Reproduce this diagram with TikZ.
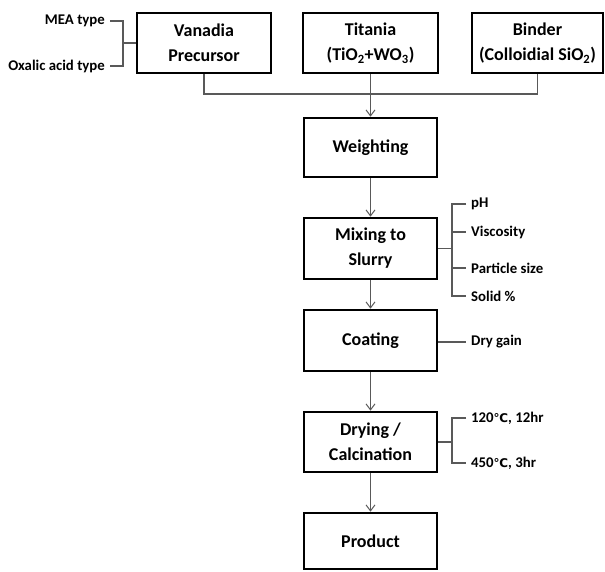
\documentclass[tikz,border=0pt]{standalone}
\usepackage{fontspec}
\setmainfont{Carlito}
\newfontfamily\symfont{DejaVu Sans}
\usetikzlibrary{arrows.meta}
\newcommand{\degc}{{\symfont\fontsize{12}{12}\selectfont ℃}}
\tikzset{
  stepbox/.style={draw=black, line width=2.6pt, minimum width=133pt, minimum height=60pt,
    inner sep=2pt, align=center, font=\fontsize{18}{25}\selectfont\bfseries},
  conn/.style={draw=black!65, line width=1.3pt},
  arr/.style={conn, -{Straight Barb[length=6pt,width=9pt,line width=1pt]}},
  lbl/.style={font=\fontsize{14.8}{16}\selectfont\bfseries, inner xsep=5pt, inner ysep=1pt},
}
\begin{document}
\begin{tikzpicture}[x=1pt,y=-1pt]
\useasboundingbox (0,0) rectangle (605,571);
% boxes
\node[stepbox, minimum width=134pt] (van) at (204,43) {Vanadia\\Precursor};
\node[stepbox, minimum width=135pt] (tit) at (370.5,43) {Titania\\(TiO\textsubscript{2}+WO\textsubscript{3})};
\node[stepbox, minimum width=131pt] (bin) at (537.5,43) {Binder\\(Colloidial SiO\textsubscript{2})};
\node[stepbox, minimum height=59pt] (wei) at (370.5,147.5) {Weighting};
\node[stepbox, minimum height=61pt] (mix) at (370.5,248.5) {Mixing to\\Slurry};
\node[stepbox, minimum height=61pt] (coa) at (370.5,340.5) {Coating};
\node[stepbox] (dry) at (370.5,442) {Drying /\\Calcination};
\node[stepbox, minimum height=56pt] (pro) at (370.5,541) {Product};
% left labels
\node[lbl, anchor=east] (mea) at (110,21) {MEA type};
\node[lbl, anchor=east] (oxa) at (110,66) {Oxalic acid type};
\coordinate (lb) at (123,43);
\draw[conn] (mea.east) -| (lb) |- (oxa.east);
\draw[conn] (lb) -- (van.west);
% top collector
\coordinate (jl) at (204,94);
\draw[conn] (van.south) -- (jl) -| (bin.south);
\draw[arr] (tit.south) -- (wei.north);
\draw[arr] (wei.south) -- (mix.north);
\draw[arr] (mix.south) -- (coa.north);
\draw[arr] (coa.south) -- (dry.north);
\draw[arr] (dry.south) -- (pro.north);
% mixing labels
\node[lbl, anchor=west] (ph) at (466,204) {pH};
\node[lbl, anchor=west] (vis) at (466,232) {Viscosity};
\node[lbl, anchor=west] (par) at (466,268) {Particle size};
\node[lbl, anchor=west] (sol) at (466,296) {Solid \%};
\coordinate (mb) at (452,248.5);
\draw[conn] (mix.east) -- (mb);
\draw[conn] (ph.west) -| (mb) |- (sol.west);
\draw[conn] (mb |- vis.west) -- (vis.west);
\draw[conn] (mb |- par.west) -- (par.west);
% coating label
\node[lbl, anchor=west] (dga) at (466,342) {Dry gain};
\draw[conn] (coa.east |- dga.west) -- (dga.west);
% drying labels
\node[lbl, anchor=west] (t1) at (466,418) {120\degc, 12hr};
\node[lbl, anchor=west] (t2) at (466,463) {450\degc, 3hr};
\coordinate (db) at (452,442);
\draw[conn] (dry.east) -- (db);
\draw[conn] (t1.west) -| (db) |- (t2.west);
\end{tikzpicture}
\end{document}
